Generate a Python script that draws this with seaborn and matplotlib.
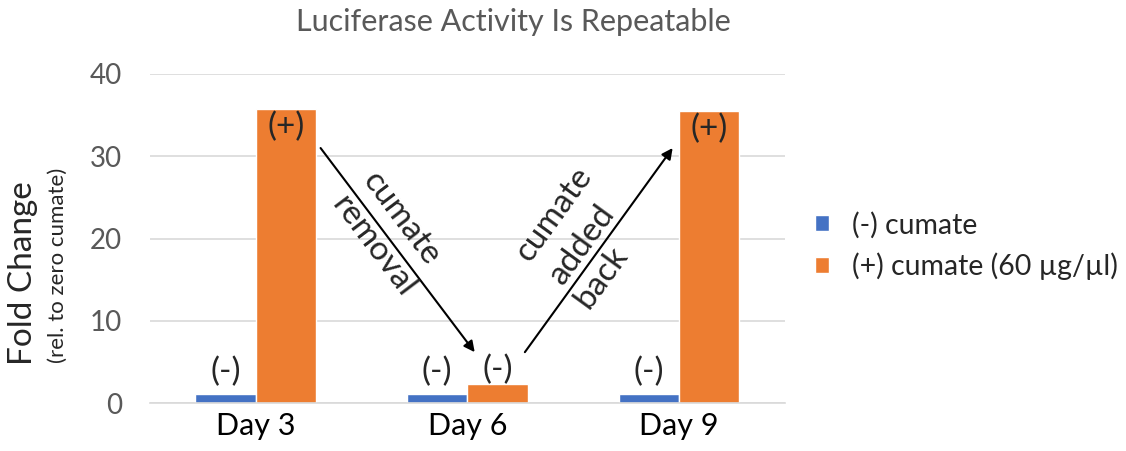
import pandas as pd
import seaborn as sns
import matplotlib.pyplot as plt

# data
days = ['Day 3', 'Day 6', 'Day 9']
no_cumate = [1.1, 1.1, 1.1]
with_cumate = [35.8, 2.3, 35.5]
series_names = ['(-) cumate', '(+) cumate (60 µg/µl)']
bar_labels_neg = ['(-)', '(-)', '(-)']
bar_labels_pos = ['(+)', '(-)', '(+)']

df = pd.DataFrame({
    'day': days * 2,
    'fold': no_cumate + with_cumate,
    'group': [series_names[0]] * 3 + [series_names[1]] * 3,
})

sns.set_style('white')
plt.rcParams['font.family'] = ['Lato', 'DejaVu Sans']

fig = plt.figure(figsize=(11.26, 4.51), dpi=100)
ax = fig.add_axes([0.133, 0.106, 0.564, 0.730])

sns.barplot(data=df, x='day', y='fold', hue='group',
            palette=['#4472C4', '#ED7D31'], width=0.57, ax=ax,
            saturation=1, legend=True)

ax.set_ylim(0, 40)
ax.set_xlim(-0.5, 2.5)
ax.set_yticks([0, 10, 20, 30, 40])
ax.yaxis.grid(True, color='#D9D9D9', linewidth=1.2)
ax.set_axisbelow(True)
for s in ['top', 'right', 'left']:
    ax.spines[s].set_visible(False)
ax.spines['bottom'].set_color('#D9D9D9')
ax.spines['bottom'].set_linewidth(1.2)
ax.tick_params(axis='both', length=0)
ax.tick_params(axis='y', labelsize=20, labelcolor='#595959', pad=20)
ax.tick_params(axis='x', labelsize=22, labelcolor='black', pad=6)
ax.set_xlabel('')
ax.set_ylabel('')

fig.text(0.456, 0.951, 'Luciferase Activity Is Repeatable', fontsize=22,
         color='#595959', ha='center', va='center')

fig.text(0.020, 0.395, 'Fold Change', rotation=90, fontsize=24,
         ha='center', va='center')
fig.text(0.051, 0.412, '(rel. to zero cumate)', rotation=90, fontsize=16,
         ha='center', va='center')

# bar labels
off = 0.1425
for i, d in enumerate(days):
    ax.text(i - off, no_cumate[i] + 2.7, bar_labels_neg[i], ha='center',
            va='center', fontsize=24)
    ypos = with_cumate[i] - 2.2 if with_cumate[i] > 10 else with_cumate[i] + 1.7
    ax.text(i + off, ypos, bar_labels_pos[i], ha='center', va='center',
            fontsize=24)

# arrows + their labels
arrow1 = ((0.307, 31.0), (1.035, 6.2))
arrow2 = ((1.272, 6.2), (1.97, 31.0))
for (a, b) in [arrow1, arrow2]:
    ax.annotate('', xy=b, xytext=a,
                arrowprops=dict(arrowstyle='-|>', color='black', lw=1.5,
                                mutation_scale=16, shrinkA=0, shrinkB=0))


def line_label(arrow, t, txt, dx, dy, rot):
    (x0, y0), (x1, y1) = arrow
    p = (x0 + t * (x1 - x0), y0 + t * (y1 - y0))
    ax.annotate(txt, xy=p, xytext=(dx, dy), textcoords='offset pixels',
                ha='center', va='center', rotation=rot, fontsize=24,
                rotation_mode='anchor')


line_label(arrow1, 0.41, 'cumate', 18.0, 13.5, -53)
line_label(arrow1, 0.43, 'removal', -14.0, -10.5, -53)
line_label(arrow2, 0.51, 'cumate', -46.6, 33.8, 54)
line_label(arrow2, 0.48, 'added', -13.3, 9.6, 54)
line_label(arrow2, 0.42, 'back', 14.4, -10.4, 54)

ax.legend(loc='center left', bbox_to_anchor=(0.724, 0.455),
          bbox_transform=fig.transFigure, frameon=False, borderpad=0,
          borderaxespad=0, fontsize=20.5, handlelength=0.5, handleheight=0.5,
          labelspacing=0.5, handletextpad=0.8)

plt.savefig('out.png', dpi=100)
